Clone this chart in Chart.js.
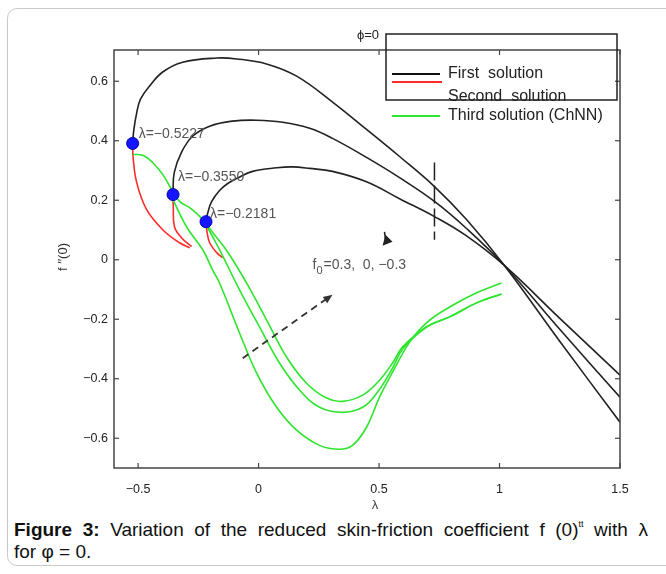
<!DOCTYPE html>
<html>
<head>
<meta charset="utf-8">
<script src="https://cdn.jsdelivr.net/npm/chart.js@4.4.1/dist/chart.umd.min.js"></script>
<style>
  html, body { margin: 0; padding: 0; background: #fff; }
  body { width: 666px; height: 574px; position: relative; overflow: hidden; font-family: "Liberation Sans", Arial, sans-serif; }
  #card { position: absolute; left: 7px; top: 8px; width: 720px; height: 556px; border: 1px solid #c9c9c9; border-radius: 10px; }
  #chart { position: absolute; left: 0; top: 0; }
  .cap { position: absolute; left: 14px; font-size: 19px; line-height: 22px; color: #111; }
  #cap1 { top: 519px; width: 634px; text-align: justify; text-align-last: justify; }
  #cap2 { top: 541px; white-space: nowrap; }
  .cap sup { font-size: 9px; vertical-align: 9px; line-height: 0; }
</style>
</head>
<body>
<div id="card"></div>
<canvas id="chart" width="666" height="515"></canvas>
<div class="cap" id="cap1"><b>Figure 3:</b> Variation of the reduced skin-friction coefficient f (0)<sup>tt</sup> with λ</div>
<div class="cap" id="cap2">for φ = 0.</div>
<script>
// axis ticks
const tickX = [-0.5, 0, 0.5, 1, 1.5];
const tickY = [-0.6, -0.4, -0.2, 0, 0.2, 0.4, 0.6];

// first solution (black), one curve per f0
const first1Lam = [-0.5227, -0.518, -0.506, -0.490, -0.452, -0.398, -0.315, -0.174, -0.091, 0.033, 0.158, 0.307, 0.448, 0.585, 0.730, 0.863, 1.021, 1.249, 1.5];
const first1F   = [0.391, 0.435, 0.493, 0.540, 0.584, 0.631, 0.664, 0.678, 0.675, 0.658, 0.617, 0.530, 0.438, 0.347, 0.246, 0.135, -0.020, -0.273, -0.546];
const first2Lam = [-0.355, -0.350, -0.320, -0.274, -0.203, -0.108, -0.008, 0.100, 0.212, 0.307, 0.448, 0.585, 0.730, 0.863, 1.021, 1.249, 1.5];
const first2F   = [0.219, 0.293, 0.361, 0.415, 0.449, 0.466, 0.469, 0.462, 0.442, 0.408, 0.344, 0.276, 0.196, 0.105, -0.020, -0.233, -0.462];
const first3Lam = [-0.2181, -0.210, -0.195, -0.162, -0.125, -0.091, -0.025, 0.075, 0.140, 0.212, 0.307, 0.448, 0.585, 0.730, 0.863, 1.021, 1.249, 1.5];
const first3F   = [0.128, 0.160, 0.195, 0.233, 0.258, 0.273, 0.297, 0.309, 0.312, 0.307, 0.297, 0.262, 0.205, 0.145, 0.080, -0.020, -0.196, -0.388];

// second solution (red)
const second1Lam = [-0.5227, -0.521, -0.506, -0.465, -0.398, -0.328, -0.286];
const second1F   = [0.391, 0.347, 0.260, 0.169, 0.101, 0.057, 0.040];
const second2Lam = [-0.355, -0.354, -0.349, -0.320, -0.278];
const second2F   = [0.219, 0.179, 0.111, 0.074, 0.044];
const second3Lam = [-0.2181, -0.214, -0.203, -0.174, -0.149];
const second3F   = [0.128, 0.094, 0.057, 0.024, 0.007];

// third solution (green, ChNN)
const third1Lam = [-0.523, -0.481, -0.440, -0.398, -0.361, -0.328, -0.286, -0.253, -0.220, -0.187, -0.129, -0.050, 0.033, 0.116, 0.199, 0.282, 0.349, 0.432, 0.502, 0.556, 0.598, 0.697, 0.793, 0.905, 1.008];
const third1F   = [0.354, 0.351, 0.327, 0.287, 0.236, 0.196, 0.175, 0.152, 0.125, 0.088, 0.027, -0.078, -0.202, -0.327, -0.415, -0.465, -0.476, -0.455, -0.405, -0.347, -0.293, -0.226, -0.192, -0.145, -0.115];
const third2Lam = [-0.361, -0.299, -0.232, -0.191, -0.162, -0.079, -0.008, 0.075, 0.158, 0.253, 0.336, 0.390, 0.448, 0.502, 0.556, 0.627, 0.697, 0.793, 0.905, 1.008];
const third2F   = [0.212, 0.111, 0.034, -0.034, -0.078, -0.246, -0.381, -0.496, -0.573, -0.624, -0.637, -0.624, -0.563, -0.462, -0.378, -0.277, -0.212, -0.159, -0.111, -0.078];
const third3Lam = [-0.220, -0.195, -0.162, -0.079, 0.004, 0.087, 0.170, 0.253, 0.349, 0.432, 0.490, 0.556, 0.598, 0.697, 0.793, 0.905, 1.008];
const third3F   = [0.121, 0.084, 0.034, -0.101, -0.226, -0.347, -0.438, -0.496, -0.513, -0.496, -0.449, -0.364, -0.300, -0.226, -0.192, -0.145, -0.115];

// turning points
const dotLam = [-0.5227, -0.3550, -0.2181];
const dotF   = [0.391, 0.219, 0.128];
const dotText = ["λ=−0.5227", "λ=−0.3550", "λ=−0.2181"];

const BLACK = "#222", RED = "#ff2a2a", GREEN = "#2de52d";
const FONT = "'Liberation Sans', Arial, sans-serif";

function pts(xs, ys) { return xs.map((x, i) => ({ x: x, y: ys[i] })); }
function curve(xs, ys, color) {
  return { data: pts(xs, ys), showLine: true, borderColor: color, borderWidth: 1.6, pointRadius: 0, tension: 0.4, fill: false };
}
function fmt(v) {
  const r = Math.round(Math.abs(v) * 10) / 10;
  return (v < -1e-9 ? "−" : "") + String(r);
}

const datasets = [
  { data: pts(dotLam, dotF), showLine: false, pointRadius: 6, backgroundColor: "#1515ff", borderColor: "#0000b0", borderWidth: 1 },
  curve(first1Lam, first1F, BLACK),
  curve(first2Lam, first2F, BLACK),
  curve(first3Lam, first3F, BLACK),
  curve(third1Lam, third1F, GREEN),
  curve(third2Lam, third2F, GREEN),
  curve(third3Lam, third3F, GREEN),
  curve(second1Lam, second1F, RED),
  curve(second2Lam, second2F, RED),
  curve(second3Lam, second3F, RED)
];

function seg(ctx, x1, y1, x2, y2) { ctx.beginPath(); ctx.moveTo(x1, y1); ctx.lineTo(x2, y2); ctx.stroke(); }

const decor = {
  id: "decor",
  afterDatasetsDraw(chart) {
    const { ctx, chartArea: a, scales: { x, y } } = chart;
    ctx.save();

    // axes box with inward ticks (MATLAB style)
    ctx.strokeStyle = "#444";
    ctx.lineWidth = 1.5;
    ctx.strokeRect(a.left, a.top, a.width, a.height);
    ctx.lineWidth = 1.2;
    tickX.forEach(v => {
      const px = x.getPixelForValue(v);
      seg(ctx, px, a.bottom, px, a.bottom - 5);
      seg(ctx, px, a.top, px, a.top + 5);
    });
    tickY.forEach(v => {
      const py = y.getPixelForValue(v);
      seg(ctx, a.left, py, a.left + 5, py);
      seg(ctx, a.right, py, a.right - 5, py);
    });

    // labels at the turning points
    const offs = [[6, -9], [5, -17], [4, -8]];
    ctx.font = "14px " + FONT;
    ctx.fillStyle = "#555";
    ctx.textBaseline = "middle";
    ctx.textAlign = "left";
    dotLam.forEach((v, i) => {
      ctx.fillText(dotText[i], x.getPixelForValue(v) + offs[i][0], y.getPixelForValue(dotF[i]) + offs[i][1]);
    });

    // f0 = 0.3, 0, -0.3
    const fx = x.getPixelForValue(0.224), fy = y.getPixelForValue(-0.017);
    ctx.fillText("f", fx, fy);
    ctx.font = "11px " + FONT;
    ctx.fillText("0", fx + 4, fy + 6);
    ctx.font = "14px " + FONT;
    ctx.fillText("=0.3,  0, −0.3", fx + 11, fy);

    // dashed arrow through the third solutions
    const ax1 = x.getPixelForValue(-0.066), ay1 = y.getPixelForValue(-0.331);
    const ax2 = x.getPixelForValue(0.307), ay2 = y.getPixelForValue(-0.118);
    ctx.strokeStyle = "#333";
    ctx.lineWidth = 1.8;
    ctx.setLineDash([7, 5]);
    seg(ctx, ax1, ay1, ax2 - 4, ay2 + 2.5);
    ctx.setLineDash([]);
    const ang = Math.atan2(ay2 - ay1, ax2 - ax1);
    ctx.fillStyle = "#333";
    ctx.beginPath();
    ctx.moveTo(ax2, ay2);
    ctx.lineTo(ax2 - 10 * Math.cos(ang - 0.4), ay2 - 10 * Math.sin(ang - 0.4));
    ctx.lineTo(ax2 - 10 * Math.cos(ang + 0.4), ay2 - 10 * Math.sin(ang + 0.4));
    ctx.closePath();
    ctx.fill();

    // dashed vertical marker across the first solutions
    const vx = x.getPixelForValue(0.73);
    ctx.lineWidth = 1.5;
    ctx.strokeStyle = "#222";
    ctx.setLineDash([18, 5]);
    seg(ctx, vx, y.getPixelForValue(0.327), vx, y.getPixelForValue(0.067));
    ctx.setLineDash([]);

    // small arrow mark
    const gx = x.getPixelForValue(0.531), gy = y.getPixelForValue(0.067);
    ctx.fillStyle = "#222";
    ctx.beginPath();
    ctx.moveTo(gx - 4, gy + 6);
    ctx.lineTo(gx - 1, gy - 5);
    ctx.lineTo(gx + 6, gy + 2);
    ctx.closePath();
    ctx.fill();
    ctx.lineWidth = 1.5;
    seg(ctx, gx - 2, gy - 8, gx - 1, gy);

    // title phi = 0
    ctx.fillStyle = "#222";
    ctx.font = "13px " + FONT;
    ctx.fillText("ϕ=0", 357, a.top - 15);

    // legend box (offset like the original figure)
    ctx.strokeStyle = "#222";
    ctx.lineWidth = 1.5;
    ctx.strokeRect(386, 34, 231, 66);
    ctx.lineWidth = 1.8;
    ctx.strokeStyle = "#111"; seg(ctx, 392, 74, 440, 74);
    ctx.strokeStyle = RED;    seg(ctx, 392, 82, 442, 82);
    ctx.strokeStyle = GREEN;  seg(ctx, 392, 116, 440, 116);
    ctx.fillStyle = "#222";
    ctx.font = "16px " + FONT;
    ctx.fillText("First  solution", 448, 74);
    ctx.fillText("Second  solution", 448, 97);
    ctx.fillText("Third solution (ChNN)", 448, 116);

    // axis titles
    ctx.fillStyle = "#444";
    ctx.font = "13px " + FONT;
    ctx.textAlign = "center";
    ctx.fillText("λ", 375, a.bottom + 37);
    ctx.save();
    ctx.translate(63, 257);
    ctx.rotate(-Math.PI / 2);
    ctx.fillStyle = "#333";
    ctx.fillText("f ′′(0)", 0, 0);
    ctx.restore();

    ctx.restore();
  }
};

new Chart(document.getElementById("chart"), {
  type: "scatter",
  data: { datasets: datasets },
  options: {
    responsive: false,
    animation: false,
    layout: { padding: { left: 0, right: 46, top: 50, bottom: 0 } },
    plugins: { legend: { display: false }, tooltip: { enabled: false } },
    scales: {
      x: {
        type: "linear", min: -0.6, max: 1.5,
        grid: { display: false }, border: { display: false },
        afterBuildTicks: ax => { ax.ticks = tickX.map(v => ({ value: v })); },
        afterFit: ax => { ax.height = 47; },
        ticks: { padding: 6, color: "#222", font: { size: 12.5, family: FONT }, callback: v => fmt(v) }
      },
      y: {
        type: "linear", min: -0.7, max: 0.705,
        grid: { display: false }, border: { display: false },
        afterBuildTicks: ax => { ax.ticks = tickY.map(v => ({ value: v })); },
        afterFit: ax => { ax.width = 114; },
        ticks: { padding: -2, color: "#222", font: { size: 12.5, family: FONT }, callback: v => fmt(v) }
      }
    }
  },
  plugins: [decor]
});
</script>
</body>
</html>
